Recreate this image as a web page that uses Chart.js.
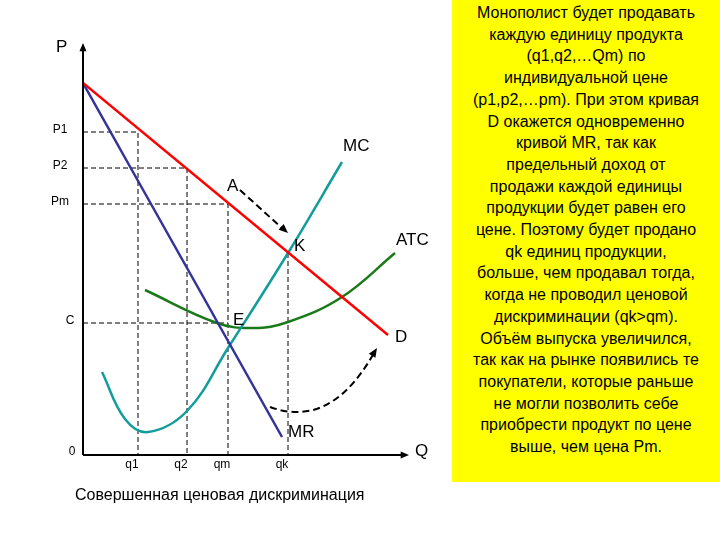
<!DOCTYPE html>
<html>
<head>
<meta charset="utf-8">
<script src="https://cdn.jsdelivr.net/npm/chart.js@4"></script>
<style>
  body { margin: 0; background: #fff; }
  #wrap { position: relative; width: 720px; height: 540px; }
  #note {
    position: absolute; left: 452px; top: 0; width: 268px; height: 482px;
    background: #ffff00; font: 16px "Liberation Sans", Arial, sans-serif;
    line-height: 21.7px; text-align: center; color: #000; padding-top: 2px;
    box-sizing: border-box; white-space: nowrap;
  }
</style>
</head>
<body>
<div id="wrap">
  <canvas id="c" width="720" height="540"></canvas>
  <div id="note">Монополист будет продавать<br>каждую единицу продукта<br>(q1,q2,…Qm) по<br>индивидуальной цене<br>(p1,p2,…pm). При этом кривая<br>D окажется одновременно<br>кривой MR, так как<br>предельный доход от<br>продажи каждой единицы<br>продукции будет равен его<br>цене. Поэтому будет продано<br>qk единиц продукции,<br>больше, чем продавал тогда,<br>когда не проводил ценовой<br>дискриминации (qk&gt;qm).<br>Объём выпуска увеличился,<br>так как на рынке появились те<br>покупатели, которые раньше<br>не могли позволить себе<br>приобрести продукт по цене<br>выше, чем цена Pm.</div>
</div>
<script>
// coordinates in diagram units: x = quantity, y = price
const demand = [{x: 0, y: 372}, {x: 305, y: 120}];
const marginalRevenue = [{x: 0, y: 372}, {x: 199, y: 18}];
const marginalCost = [
  {x: 19, y: 83}, {x: 42, y: 36}, {x: 65, y: 23}, {x: 104, y: 44},
  {x: 145, y: 107}, {x: 205, y: 202}, {x: 259, y: 293}
];
const averageCost = [
  {x: 62, y: 165}, {x: 134, y: 132}, {x: 170, y: 127}, {x: 205, y: 133},
  {x: 259, y: 158}, {x: 312, y: 202}
];
const priceLevels = [{label: 'P1', y: 323, q: 55}, {label: 'P2', y: 287, q: 104}, {label: 'Pm', y: 251, q: 145}];
const qTicks = [{label: 'q1', x: 55}, {label: 'q2', x: 104}, {label: 'qm', x: 145}, {label: 'qk', x: 205}];
const costLevel = {label: 'C', y: 132, q: 145};
const kPoint = {x: 205, y: 202};
const arrowA = [{x: 157, y: 265}, {x: 205, y: 222}];
const arrowCurve = [{x: 187, y: 48}, {x: 220, y: 42}, {x: 247, y: 48}, {x: 294, y: 107}];

const dashedSets = [];
priceLevels.forEach(p => {
  dashedSets.push([{x: 0, y: p.y}, {x: p.q, y: p.y}, {x: p.q, y: 0}]);
});
dashedSets.push([{x: 0, y: costLevel.y}, {x: costLevel.q, y: costLevel.y}]);
dashedSets.push([{x: kPoint.x, y: kPoint.y}, {x: kPoint.x, y: 0}]);

const datasets = [
  {data: demand, borderColor: '#ff0000', borderWidth: 2.5},
  {data: marginalRevenue, borderColor: '#333399', borderWidth: 2.5},
  {data: marginalCost, borderColor: '#139c9c', borderWidth: 2.5, tension: 0.4},
  {data: averageCost, borderColor: '#1a7a1a', borderWidth: 2.5, tension: 0.4}
].concat(dashedSets.map(d => ({data: d, borderColor: '#000', borderWidth: 1, borderDash: [5, 3]})));
datasets.forEach(d => { d.pointRadius = 0; d.fill = false; });

function arrowHead(ctx, x1, y1, x2, y2, size) {
  const a = Math.atan2(y2 - y1, x2 - x1);
  ctx.beginPath();
  ctx.moveTo(x2, y2);
  ctx.lineTo(x2 - size * Math.cos(a - 0.4), y2 - size * Math.sin(a - 0.4));
  ctx.lineTo(x2 - size * Math.cos(a + 0.4), y2 - size * Math.sin(a + 0.4));
  ctx.closePath();
  ctx.fill();
}

const decor = {
  id: 'decor',
  afterDatasetsDraw(chart) {
    const ctx = chart.ctx, xs = chart.scales.x, ys = chart.scales.y;
    const X = v => xs.getPixelForValue(v), Y = v => ys.getPixelForValue(v);
    ctx.save();
    ctx.fillStyle = '#000'; ctx.strokeStyle = '#000';
    // axes
    ctx.lineWidth = 2;
    ctx.beginPath();
    ctx.moveTo(X(0), Y(0)); ctx.lineTo(X(0), Y(405));
    ctx.moveTo(X(0), Y(0)); ctx.lineTo(X(318), Y(0));
    ctx.stroke();
    arrowHead(ctx, X(0), Y(0), X(0), Y(412), 9);
    arrowHead(ctx, X(0), Y(0), X(326), Y(0), 9);
    // dashed arrows
    ctx.lineWidth = 2; ctx.setLineDash([7, 4]);
    ctx.beginPath();
    ctx.moveTo(X(arrowA[0].x), Y(arrowA[0].y)); ctx.lineTo(X(arrowA[1].x) - 5, Y(arrowA[1].y) - 4);
    ctx.stroke();
    ctx.beginPath();
    const c = arrowCurve;
    ctx.moveTo(X(c[0].x), Y(c[0].y));
    ctx.bezierCurveTo(X(c[1].x), Y(c[1].y) + 6, X(c[2].x) + 10, Y(c[2].y) + 6, X(c[3].x) - 3, Y(c[3].y) + 5);
    ctx.stroke();
    ctx.setLineDash([]);
    arrowHead(ctx, X(arrowA[0].x), Y(arrowA[0].y), X(arrowA[1].x), Y(arrowA[1].y), 10);
    arrowHead(ctx, X(c[2].x) + 10, Y(c[2].y), X(c[3].x), Y(c[3].y), 10);
    // labels
    ctx.textBaseline = 'middle';
    ctx.font = '12px "Liberation Sans", Arial, sans-serif';
    ctx.textAlign = 'center';
    priceLevels.forEach(p => ctx.fillText(p.label, X(0) - 23, Y(p.y) - 2));
    ctx.fillText(costLevel.label, X(0) - 13, Y(costLevel.y) - 2);
    ctx.fillText('0', X(0) - 11, Y(0) - 3);
    qTicks.forEach(q => ctx.fillText(q.label, X(q.x) - 6, Y(0) + 10));
    ctx.font = '17px "Liberation Sans", Arial, sans-serif';
    ctx.textAlign = 'left';
    ctx.fillText('P', 56, 47);
    ctx.fillText('MC', 343, 146);
    ctx.fillText('A', 227, 186);
    ctx.fillText('K', 294, 246);
    ctx.fillText('ATC', 396, 240);
    ctx.fillText('E', 233, 320);
    ctx.fillText('D', 395, 337);
    ctx.fillText('MR', 288, 432);
    ctx.fillText('Q', 415, 451);
    ctx.font = '16px "Liberation Sans", Arial, sans-serif';
    ctx.fillText('Совершенная ценовая дискриминация', 75, 496);
    ctx.restore();
  }
};

new Chart(document.getElementById('c'), {
  type: 'line',
  data: {datasets: datasets},
  options: {
    responsive: false,
    animation: false,
    layout: {padding: {left: 83, right: 297, top: 40, bottom: 85}},
    plugins: {legend: {display: false}, tooltip: {enabled: false}},
    scales: {
      x: {type: 'linear', min: 0, max: 340, display: false},
      y: {type: 'linear', min: 0, max: 415, display: false}
    }
  },
  plugins: [decor]
});
</script>
</body>
</html>
